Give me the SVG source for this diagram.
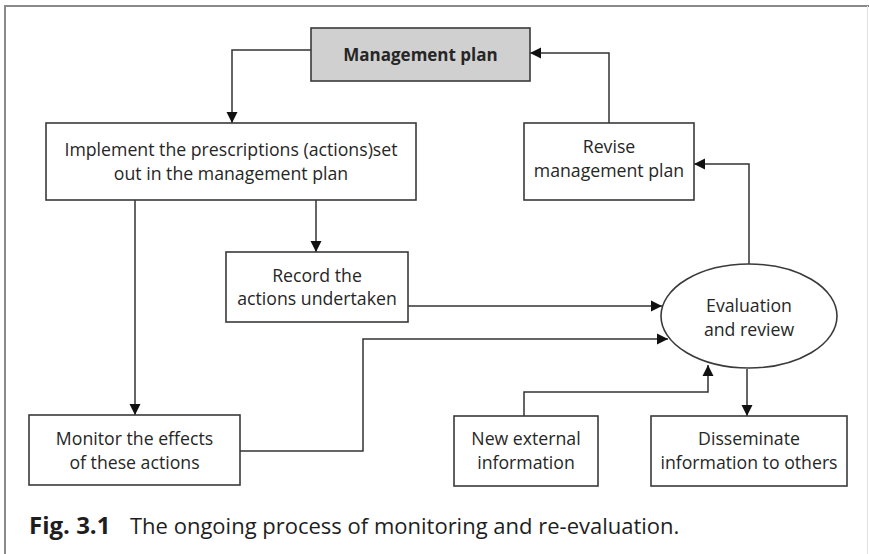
<svg xmlns="http://www.w3.org/2000/svg" width="869" height="554" viewBox="0 0 869 554">
  <style>
    .box { fill: #ffffff; stroke: #3a3a3a; stroke-width: 1.6; }
    .box.key { fill: #d0d0d0; }
    .lbl { font-family: "Open Sans", "Noto Sans", sans-serif; font-size: 17.7px; fill: #262626; text-anchor: middle; }
    .lbl.bold { font-weight: bold; font-size: 17px; }
    .edge { fill: none; stroke: #333333; stroke-width: 1.5; }
    .cap { font-family: "Open Sans", "Noto Sans", sans-serif; font-size: 22px; fill: #1e1e1e; }
  </style>
  <defs>
    <marker id="arrow" markerUnits="userSpaceOnUse" markerWidth="12" markerHeight="12" viewBox="0 0 12 12" refX="11" refY="6" orient="auto">
      <path d="M0,0.5 L11,6 L0,11.5 Z" fill="#111111"/>
    </marker>
  </defs>

  <rect x="0" y="0" width="869" height="554" fill="#ffffff"/>
  <!-- frame -->
  <path d="M5,554 V6 H869" fill="none" stroke="#8a8a8a" stroke-width="2"/>
  <line x1="867.5" y1="6" x2="867.5" y2="554" stroke="#e2e2e2" stroke-width="1"/>

  <g id="connectors">
    <path class="edge" d="M311,50 H232 V123" marker-end="url(#arrow)"/>
    <path class="edge" d="M316,200 V252" marker-end="url(#arrow)"/>
    <path class="edge" d="M135,200 V415" marker-end="url(#arrow)"/>
    <path class="edge" d="M408,306 H662" marker-end="url(#arrow)"/>
    <path class="edge" d="M240,451 H363 V339 H668" marker-end="url(#arrow)"/>
    <path class="edge" d="M524,416 V392 H708 V365" marker-end="url(#arrow)"/>
    <path class="edge" d="M747,369 V416" marker-end="url(#arrow)"/>
    <path class="edge" d="M749,264 V164 H694" marker-end="url(#arrow)"/>
    <path class="edge" d="M609,123 V53 H530" marker-end="url(#arrow)"/>
  </g>

  <g id="management-plan">
    <rect class="box key" x="311" y="28" width="219" height="53"/>
    <text class="lbl bold" x="420.5" y="61">Management plan</text>
  </g>

  <g id="implement">
    <rect class="box" x="46" y="123" width="370" height="77"/>
    <text class="lbl" x="231" y="156">Implement the prescriptions (actions)set</text>
    <text class="lbl" x="231" y="180">out in the management plan</text>
  </g>

  <g id="record">
    <rect class="box" x="226" y="252" width="182" height="70"/>
    <text class="lbl" x="317" y="282">Record the</text>
    <text class="lbl" x="317" y="305">actions undertaken</text>
  </g>

  <g id="monitor">
    <rect class="box" x="29" y="415" width="211" height="70"/>
    <text class="lbl" x="134.5" y="445">Monitor the effects</text>
    <text class="lbl" x="134.5" y="469">of these actions</text>
  </g>

  <g id="revise">
    <rect class="box" x="524" y="123" width="170" height="77"/>
    <text class="lbl" x="609" y="153">Revise</text>
    <text class="lbl" x="609" y="177">management plan</text>
  </g>

  <g id="evaluation">
    <ellipse class="box" cx="749" cy="316" rx="88" ry="52"/>
    <text class="lbl" x="749" y="312">Evaluation</text>
    <text class="lbl" x="749" y="336">and review</text>
  </g>

  <g id="new-information">
    <rect class="box" x="454" y="416" width="144" height="70"/>
    <text class="lbl" x="526" y="445">New external</text>
    <text class="lbl" x="526" y="469">information</text>
  </g>

  <g id="disseminate">
    <rect class="box" x="651" y="416" width="196" height="70"/>
    <text class="lbl" x="749" y="445">Disseminate</text>
    <text class="lbl" x="749" y="469">information to others</text>
  </g>

  <text class="cap" x="29" y="534"><tspan font-weight="bold" font-size="24">Fig. 3.1</tspan><tspan x="130">The ongoing process of monitoring and re-evaluation.</tspan></text>
</svg>
